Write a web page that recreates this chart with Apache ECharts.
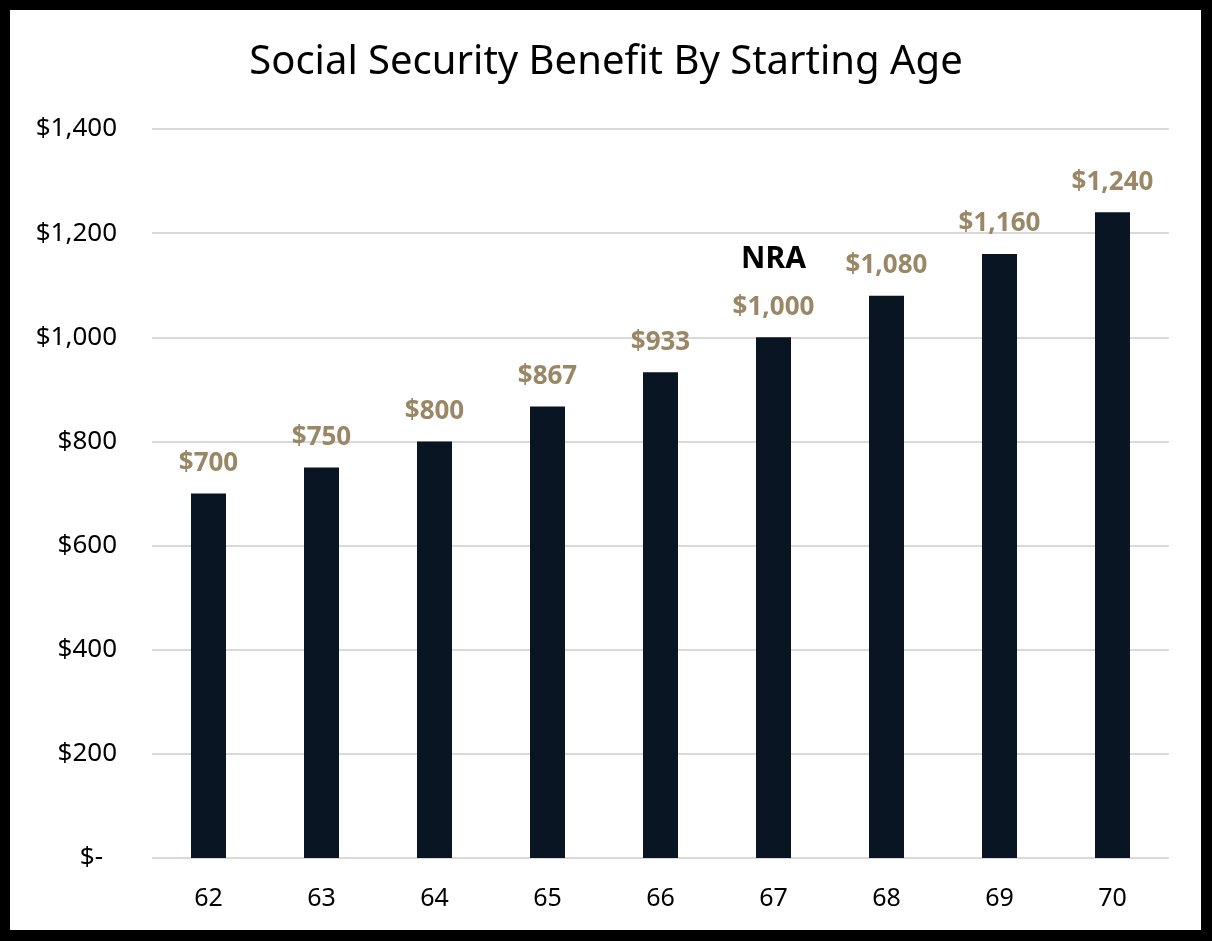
<!DOCTYPE html>
<html>
<head>
<meta charset="utf-8">
<script src="https://cdn.jsdelivr.net/npm/echarts@6/dist/echarts.min.js"></script>
<style>
html,body{margin:0;padding:0;background:#fff;}
#wrap{position:relative;width:1212px;height:941px;}
#chart{position:absolute;left:0;top:0;width:1212px;height:941px;}
#frame{position:absolute;left:0;top:0;width:1212px;height:941px;box-sizing:border-box;border-style:solid;border-color:#000;border-width:10px 11px 11px 10px;pointer-events:none;}
</style>
</head>
<body>
<div id="wrap"><div id="chart"></div><div id="frame"></div></div>
<script>
const titleText = 'Social Security Benefit By Starting Age';
const ages = ['62','63','64','65','66','67','68','69','70'];
const benefits = [700, 750, 800, 867, 933, 1000, 1080, 1160, 1240];
const nraAge = '67';
const nraText = 'NRA';

const font = '"Noto Sans", sans-serif';
const chart = echarts.init(document.getElementById('chart'));
function money(v){ return '$' + v.toLocaleString('en-US'); }
chart.setOption({
  animation: false,
  backgroundColor: '#fff',
  title: {
    text: titleText, left: 'center', top: 38,
    textStyle: {fontFamily: font, fontSize: 40, fontWeight: 'normal', color: '#000'}
  },
  grid: {left: 152, right: 43, top: 129, bottom: 83},
  xAxis: {
    type: 'category', data: ages,
    axisLine: {show: false}, axisTick: {show: false},
    axisLabel: {fontFamily: font, fontSize: 25, color: '#000', margin: 28}
  },
  yAxis: {
    type: 'value', min: 0, max: 1400, interval: 200,
    axisLine: {show: false}, axisTick: {show: false},
    splitLine: {lineStyle: {color: '#d9d9d9', width: 2}},
    axisLabel: {
      fontFamily: font, fontSize: 26, color: '#000', margin: 35,
      formatter: v => v === 0 ? '{z|$-}' : money(v),
      rich: {z: {fontFamily: font, fontSize: 26, color: '#000', padding: [0, 14, 0, 0]}}
    }
  },
  series: [{
    type: 'bar', data: benefits, barWidth: 35,
    itemStyle: {color: '#0a1523'},
    label: {
      show: true, position: 'top', distance: 6,
      formatter: p => (ages[p.dataIndex] === nraAge ? '{n|' + nraText + '}\n' : '') + '{v|' + money(p.value) + '}',
      rich: {
        v: {fontFamily: font, fontSize: 26, fontWeight: 'bold', color: '#998766', lineHeight: 48},
        n: {fontFamily: font, fontSize: 30, fontWeight: 'bold', color: '#000', lineHeight: 48}
      }
    }
  }]
});
</script>
</body>
</html>
